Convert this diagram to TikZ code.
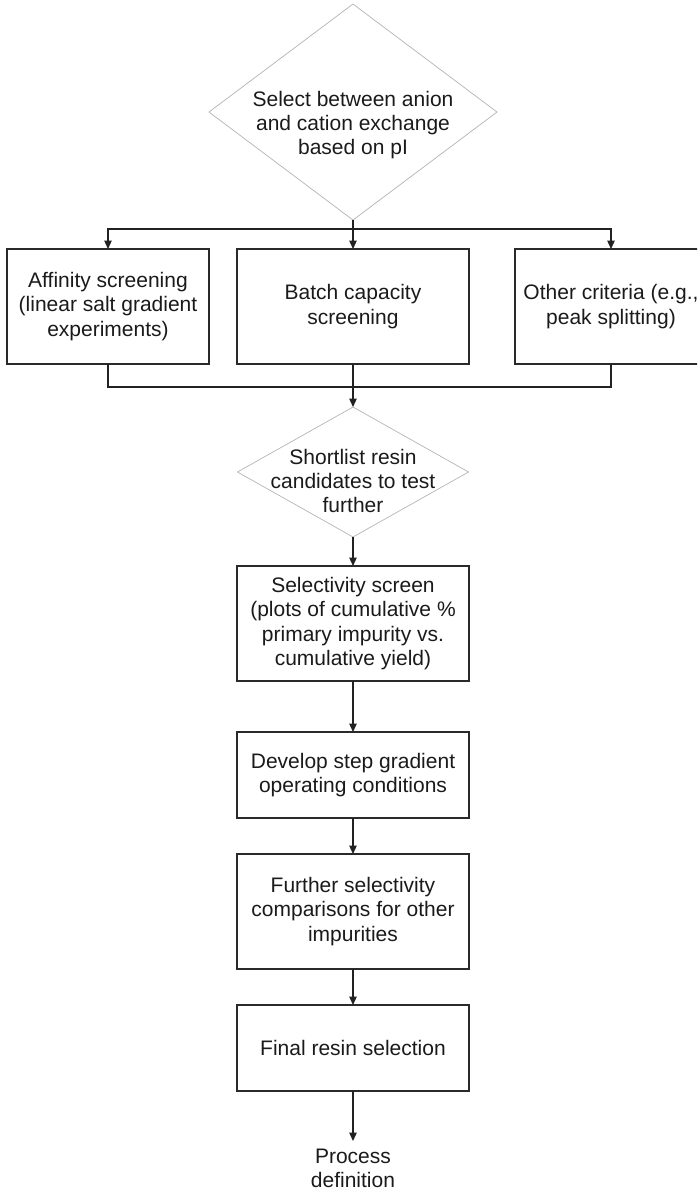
\documentclass[tikz,border=0pt]{standalone}
\usepackage{fontspec}
\setmainfont{Liberation Sans}
\usetikzlibrary{shapes.geometric,arrows.meta}
\definecolor{boxline}{HTML}{2A2A2A}
\definecolor{diamondline}{HTML}{B4B4B4}
\definecolor{linecol}{HTML}{222222}
\definecolor{textcol}{HTML}{1A1A1A}
\begin{document}
\begin{tikzpicture}[x=1pt,y=-1pt,
  every node/.style={outer sep=0pt},
  flowbox/.style={draw=boxline, line width=1.1pt, rectangle, align=center,
    font=\fontsize{21}{24.5}\selectfont, text=textcol, inner sep=2pt},
  decision/.style={draw=diamondline, line width=0.7pt, diamond, inner sep=0pt},
  txt/.style={align=center, font=\fontsize{21}{24}\selectfont, text=textcol, inner sep=0pt},
  conn/.style={draw=linecol, line width=1.2pt},
  arr/.style={conn, -{Triangle[length=8.5pt,width=7.5pt]}}]
\useasboundingbox (0,0) rectangle (697,1192);
\clip (0,0) rectangle (697,1192);

% first decision
\node[decision, minimum width=288pt, minimum height=216pt] (d1) at (353,112) {};
\node[txt, yshift=-13pt] (d1t) at (d1.center) {Select between anion\\and cation exchange\\based on pI};

% three screening boxes
\node[flowbox, minimum width=202pt, minimum height=115pt] (b1) at (108,306.5)
  {Affinity screening\\(linear salt gradient\\experiments)};
\node[flowbox, minimum width=232pt, minimum height=115pt] (b2) at (353,306.5)
  {Batch capacity\\screening};
\node[flowbox, minimum width=192pt, minimum height=115pt] (b3) at (611,306.5)
  {Other criteria (e.g.,\\peak splitting)};

% second decision
\node[decision, minimum width=231pt, minimum height=130pt] (d2) at (353,472) {};
\node[txt, yshift=-9pt] (d2t) at (d2.center) {Shortlist resin\\candidates to test\\further};

% main column
\node[flowbox, minimum width=232pt, minimum height=115pt] (b4) at (353,623.5)
  {Selectivity screen\\(plots of cumulative \%\\primary impurity vs.\\cumulative yield)};
\node[flowbox, minimum width=232pt, minimum height=86pt] (b5) at (353,775)
  {Develop step gradient\\operating conditions};
\node[flowbox, minimum width=232pt, minimum height=115pt] (b6) at (353,911.5)
  {Further selectivity\\comparisons for other\\impurities};
\node[flowbox, minimum width=232pt, minimum height=86pt] (b7) at (353,1048)
  {Final resin selection};
\node[txt, anchor=north, inner sep=8pt] (pd) at (353,1141) {Process\\definition};

% split to the three screens
\coordinate (split) at (353,229);
\draw[conn] (d1.south) -- (split);
\draw[arr] (split) -- (b2.north);
\draw[arr] (split) -| (b1.north);
\draw[arr] (split) -| (b3.north);

% merge back into the shortlist
\coordinate (join) at (353,387);
\draw[conn] (b1.south) |- (join) -| (b3.south);
\draw[arr] (b2.south) -- (d2.north);

% downstream chain
\draw[arr] (d2.south) -- (b4.north);
\draw[arr] (b4.south) -- (b5.north);
\draw[arr] (b5.south) -- (b6.north);
\draw[arr] (b6.south) -- (b7.north);
\draw[arr] (b7.south) -- (pd.north);
\end{tikzpicture}
\end{document}
